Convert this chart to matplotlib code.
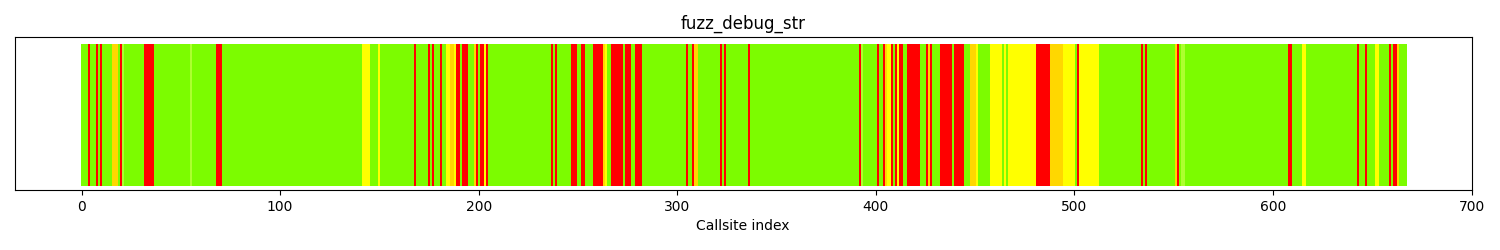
import matplotlib

matplotlib.use("Agg")
import matplotlib.pyplot as plt  # noqa: E402

# callsite coverage colors, run-length encoded: (color code, run length)
# G=lawngreen, L=greenyellow, Y=yellow, O=gold, R=red
run_codes = [
    "G", "R", "G", "R", "G", "R", "G", "O", "G", "R", "L", "G", "R", "G", "L", "G",
    "R", "G", "Y", "G", "Y", "G", "R", "G", "R", "G", "R", "G", "R", "G", "Y", "O",
    "Y", "R", "G", "R", "G", "O", "R", "G", "R", "Y", "R", "G", "R", "G", "R", "G",
    "R", "G", "R", "G", "R", "O", "Y", "G", "R", "G", "R", "G", "R", "G", "R", "G",
    "R", "O", "G", "R", "G", "R", "G", "R", "G", "R", "L", "G", "R", "G", "R", "O",
    "Y", "R", "G", "R", "Y", "R", "G", "R", "G", "R", "O", "R", "G", "R", "G", "R",
    "G", "O", "Y", "G", "Y", "G", "Y", "G", "Y", "R", "O", "Y", "G", "R", "Y", "G",
    "R", "G", "R", "G", "O", "R", "G", "L", "G", "R", "G", "Y", "G", "R", "G", "R",
    "G", "Y", "G", "R", "G", "R", "O", "G",
]
run_lengths = [
    4, 1, 3, 1, 1, 1, 5, 3, 1, 1, 1, 10, 5, 18, 1, 12,
    3, 71, 4, 4, 1, 17, 1, 6, 1, 1, 1, 3, 1, 2, 2, 2,
    1, 2, 1, 3, 3, 1, 1, 1, 2, 1, 1, 32, 1, 1, 1, 7,
    3, 2, 2, 4, 5, 1, 1, 2, 6, 1, 3, 2, 4, 22, 1, 2,
    1, 2, 11, 1, 1, 1, 11, 1, 55, 1, 1, 7, 1, 2, 1, 1,
    2, 1, 1, 1, 1, 2, 2, 7, 3, 1, 1, 1, 4, 6, 1, 5,
    3, 3, 1, 6, 6, 1, 1, 1, 14, 7, 7, 6, 1, 1, 10, 21,
    1, 1, 1, 14, 1, 1, 1, 2, 52, 2, 5, 2, 26, 1, 3, 1,
    4, 2, 5, 1, 1, 2, 1, 4,
]
color_names = {
    "G": "lawngreen",
    "L": "greenyellow",
    "Y": "yellow",
    "O": "gold",
    "R": "red",
}

colors = []
for code, n in zip(run_codes, run_lengths):
    colors.extend([color_names[code]] * n)
callsites = list(range(len(colors)))

fig, ax = plt.subplots(figsize=(15, 2.5), dpi=100)
fig.subplots_adjust(left=0.01, right=0.981, top=0.852, bottom=0.24)
ax.bar(callsites, [1] * len(callsites), width=1.0, color=colors)
ax.set_xlim(-33.5, 700)
ax.set_ylim(-0.03, 1.05)
ax.set_yticks([])
ax.set_title("fuzz_debug_str")
ax.set_xlabel("Callsite index")
fig.savefig("out.png", dpi=100)
